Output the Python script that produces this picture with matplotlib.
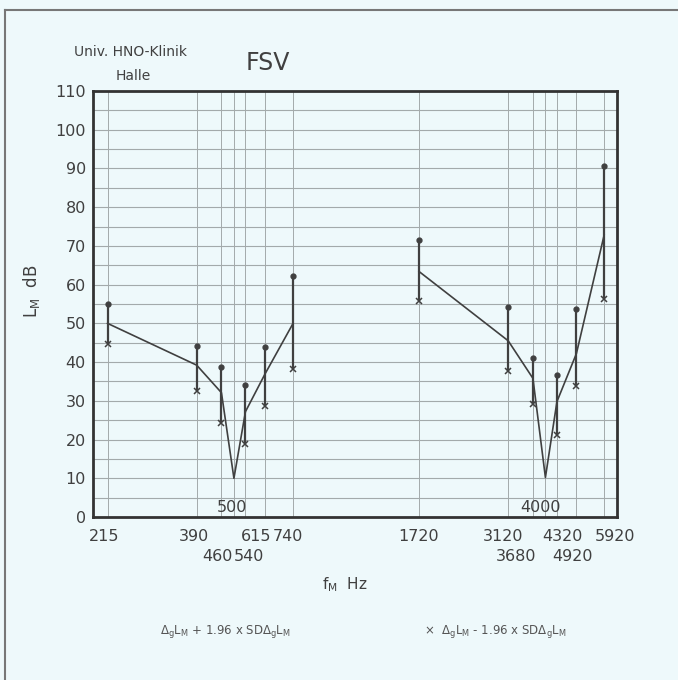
import numpy as np
import matplotlib
matplotlib.use("Agg")
import matplotlib.pyplot as plt
from matplotlib.transforms import offset_copy
from matplotlib.lines import Line2D

# frequencies (Hz), two bands around 500 Hz and 4000 Hz
freq_a = [215, 390, 460, 500, 540, 615, 740]
mean_a = [50.0, 39.2, 32.1, 10.0, 27.2, 36.9, 49.8]
upper_a = [55.0, 44.2, 38.8, np.nan, 34.1, 44.0, 62.3]
lower_a = [44.6, 32.5, 24.2, np.nan, 18.8, 28.7, 38.2]

freq_b = [1720, 3120, 3680, 4000, 4320, 4920, 5920]
mean_b = [63.4, 45.5, 35.8, 10.2, 29.8, 42.2, 72.8]
upper_b = [71.4, 54.1, 41.0, np.nan, 36.7, 53.6, 90.6]
lower_b = [55.9, 37.7, 29.2, np.nan, 21.2, 33.8, 56.2]

row1 = ["215", "390", "615", "740", "1720", "3120", "4320", "5920"]
row2 = ["460", "540", "3680", "4920"]
inner = ["500", "4000"]

bg = "#eef9fb"
ink = "#404040"
grid_c = "#a3aaab"

fig = plt.figure(figsize=(6.78, 6.80), dpi=100, facecolor=bg)
ax = fig.add_axes([0.137, 0.2397, 0.773, 0.6265], facecolor=bg)

ax.set_xscale("log")
ax.set_xlim(195, 6450)
ax.set_ylim(0, 110)

# grid: every frequency vertically, every 5 dB horizontally
for f in freq_a + freq_b:
    ax.axvline(f, color=grid_c, lw=0.7, zorder=1)
for v in np.arange(5, 110, 5):
    ax.axhline(v, color=grid_c, lw=0.8, zorder=1)

for fr, mn, up, lo in [(freq_a, mean_a, upper_a, lower_a),
                       (freq_b, mean_b, upper_b, lower_b)]:
    fr = np.array(fr)
    up = np.array(up)
    lo = np.array(lo)
    ax.plot(fr, mn, color=ink, lw=1.2, zorder=3)
    ok = ~np.isnan(up)
    ax.vlines(fr[ok], lo[ok], up[ok], color=ink, lw=1.6, zorder=3)
    ax.plot(fr[ok], up[ok], "o", color=ink, ms=3.5, zorder=4)
    ax.plot(fr[ok], lo[ok], "x", color=ink, ms=5, mew=1.1, zorder=4)

for s in ax.spines.values():
    s.set_color("#333333")
    s.set_linewidth(2)

ax.set_yticks(np.arange(0, 111, 10))
ax.tick_params(axis="y", length=0, labelsize=11.5, labelcolor=ink, pad=5)
ax.set_xticks([])
ax.xaxis.set_minor_locator(matplotlib.ticker.NullLocator())

# frequency labels below the axis (nudged like the original lettering)
nudge = {"215": -3, "390": -3, "615": -9, "740": -5, "1720": 0, "3120": -5,
         "4320": 5, "5920": 11, "460": -4, "540": 3, "3680": -17, "4920": -4,
         "500": -2, "4000": -5}
base = ax.get_xaxis_transform()
for lab in row1:
    tr = offset_copy(base, fig=fig, x=nudge[lab], y=-19, units="dots")
    ax.text(float(lab), 0, lab, transform=tr, ha="center", va="center",
            fontsize=11.5, color=ink)
for lab in row2:
    tr = offset_copy(base, fig=fig, x=nudge[lab], y=-39, units="dots")
    ax.text(float(lab), 0, lab, transform=tr, ha="center", va="center",
            fontsize=11.5, color=ink)
for lab in inner:
    tr = offset_copy(base, fig=fig, x=nudge[lab], y=10, units="dots")
    ax.text(float(lab), 0, lab, transform=tr, ha="center", va="center",
            fontsize=11.5, color=ink, zorder=5)

ax.set_ylabel(r"L$_\mathregular{M}$  dB", fontsize=12, color=ink)
ax.yaxis.set_label_coords(-0.097, 0.53)
ax.set_xlabel(r"f$_\mathregular{M}$  Hz", fontsize=11, color=ink)
ax.xaxis.set_label_coords(0.48, -0.138)

fig.text(0.395, 0.907, "FSV", fontsize=17, color=ink, ha="center", va="center")
fig.text(0.193, 0.924, "Univ. HNO-Klinik", fontsize=10, color=ink, ha="center", va="center")
fig.text(0.196, 0.888, "Halle", fontsize=10, color=ink, ha="center", va="center")

leg_plus = r"$\mathregular{\Delta_g L_M}$ + 1.96 x SD$\mathregular{\Delta_g L_M}$"
leg_minus = r"$\mathregular{\Delta_g L_M}$ - 1.96 x SD$\mathregular{\Delta_g L_M}$"
fig.text(0.333, 0.071, leg_plus, fontsize=8.5, color="#555555",
         ha="center", va="center")
fig.text(0.73, 0.071, "\u00d7  " + leg_minus, fontsize=8.5, color="#555555",
         ha="center", va="center")

# outer frame of the scanned sheet (top and left edges)
fig.add_artist(Line2D([0.007, 1.0], [0.985, 0.985], color="#777777", lw=1.5))
fig.add_artist(Line2D([0.007, 0.007], [0.0, 0.985], color="#777777", lw=1.5))

fig.savefig("out.png", dpi=100, facecolor=bg)
